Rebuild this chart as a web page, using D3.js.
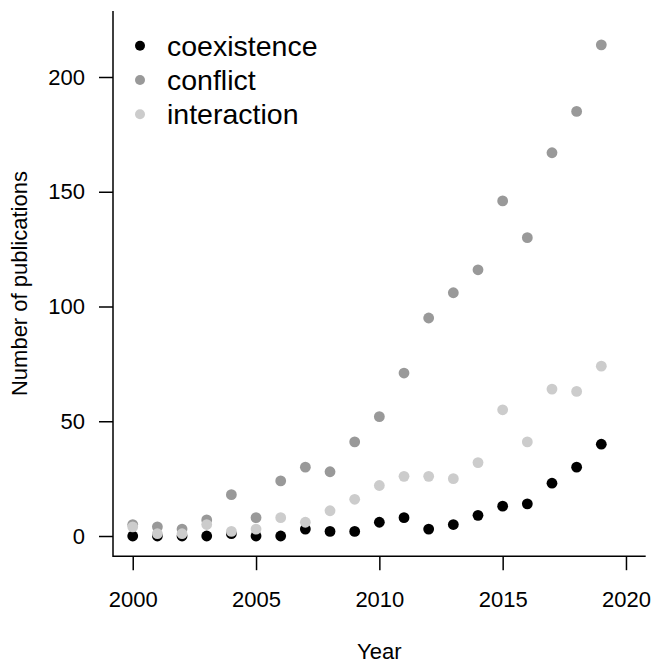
<!DOCTYPE html>
<html>
<head>
<meta charset="utf-8">
<script src="https://cdn.jsdelivr.net/npm/d3@7"></script>
<style>
  body { margin: 0; background: #fff; }
  svg { display: block; font-family: "Liberation Sans", Arial, sans-serif; }
</style>
</head>
<body>
<svg id="chart"></svg>
<script>
// Chart size and styling
const CHART_WIDTH = 651;
const CHART_HEIGHT = 663;
const PLOT_LEFT = 113;
const PLOT_RIGHT = 645.7;
const PLOT_TOP = 10.9;
const PLOT_BOTTOM = 556.2;
const TICK_SIZE = 14;
const FONT_SIZE = 22;
const LEGEND_FONT_SIZE = 28.5;
const POINT_RADIUS = 5.4;

// Data
const years = [2000, 2001, 2002, 2003, 2004, 2005, 2006, 2007, 2008, 2009,
               2010, 2011, 2012, 2013, 2014, 2015, 2016, 2017, 2018, 2019];
const coexistence = [0, 0, 0, 0, 1, 0, 0, 3, 2, 2, 6, 8, 3, 5, 9, 13, 14, 23, 30, 40];
const conflict = [5, 4, 3, 7, 18, 8, 24, 30, 28, 41, 52, 71, 95, 106, 116, 146, 130, 167, 185, 214];
const interaction = [4, 1, 1, 5, 2, 3, 8, 6, 11, 16, 22, 26, 26, 25, 32, 55, 41, 64, 63, 74];

const seriesNames = ["coexistence", "conflict", "interaction"];
const seriesColors = ["#000000", "#999999", "#cccccc"];
const xTicks = [2000, 2005, 2010, 2015, 2020];
const yTicks = [0, 50, 100, 150, 200];

function drawChart() {
    const svg = d3.select("#chart")
        .attr("width", CHART_WIDTH)
        .attr("height", CHART_HEIGHT);

    // R-style limits: xlim 2000-2020, ylim 0-220, padded by 4%
    const x = d3.scaleLinear().domain([1999.2, 2020.8]).range([PLOT_LEFT, PLOT_RIGHT]);
    const y = d3.scaleLinear().domain([-8.8, 228.8]).range([PLOT_BOTTOM, PLOT_TOP]);

    // x axis
    const xAxis = svg.append("g")
        .attr("transform", `translate(0,${PLOT_BOTTOM})`)
        .call(d3.axisBottom(x).tickValues(xTicks).tickFormat(d3.format("d"))
            .tickSize(TICK_SIZE).tickPadding(21));
    styleAxis(xAxis);

    // y axis
    const yAxis = svg.append("g")
        .attr("transform", `translate(${PLOT_LEFT},0)`)
        .call(d3.axisLeft(y).tickValues(yTicks).tickSize(TICK_SIZE).tickPadding(14));
    styleAxis(yAxis);

    // L-shaped box
    svg.append("path")
        .attr("d", `M${PLOT_LEFT},${PLOT_TOP}V${PLOT_BOTTOM}H${PLOT_RIGHT}`)
        .attr("fill", "none")
        .attr("stroke", "#000")
        .attr("stroke-width", 1.5);

    // points, conflict and interaction drawn over coexistence like in the original
    const allSeries = [coexistence, conflict, interaction];
    allSeries.forEach((values, i) => {
        svg.append("g")
            .selectAll("circle")
            .data(values)
            .enter().append("circle")
            .attr("cx", (d, j) => x(years[j]))
            .attr("cy", d => y(d))
            .attr("r", POINT_RADIUS)
            .attr("fill", seriesColors[i]);
    });

    // axis titles
    svg.append("text")
        .attr("x", (PLOT_LEFT + PLOT_RIGHT) / 2)
        .attr("y", 659)
        .attr("text-anchor", "middle")
        .attr("font-size", FONT_SIZE)
        .text("Year");

    svg.append("text")
        .attr("transform", `translate(27,${(PLOT_TOP + PLOT_BOTTOM) / 2}) rotate(-90)`)
        .attr("text-anchor", "middle")
        .attr("font-size", FONT_SIZE)
        .text("Number of publications");

    addLegend(svg);
}

function styleAxis(g) {
    g.select(".domain").remove();
    g.selectAll(".tick line").attr("stroke", "#000").attr("stroke-width", 1.5);
    g.selectAll(".tick text")
        .attr("fill", "#000")
        .attr("font-size", FONT_SIZE)
        .attr("font-family", "Liberation Sans, Arial, sans-serif");
}

function addLegend(svg) {
    const legend = svg.append("g");
    const rows = legend.selectAll("g")
        .data(seriesNames)
        .enter().append("g")
        .attr("transform", (d, i) => `translate(0,${45.7 + i * 34.3})`);

    rows.append("circle")
        .attr("cx", 140)
        .attr("cy", 0)
        .attr("r", 5)
        .attr("fill", (d, i) => seriesColors[i]);

    rows.append("text")
        .attr("x", 167)
        .attr("y", 10)
        .attr("font-size", LEGEND_FONT_SIZE)
        .text(d => d);
}

drawChart();
</script>
</body>
</html>
